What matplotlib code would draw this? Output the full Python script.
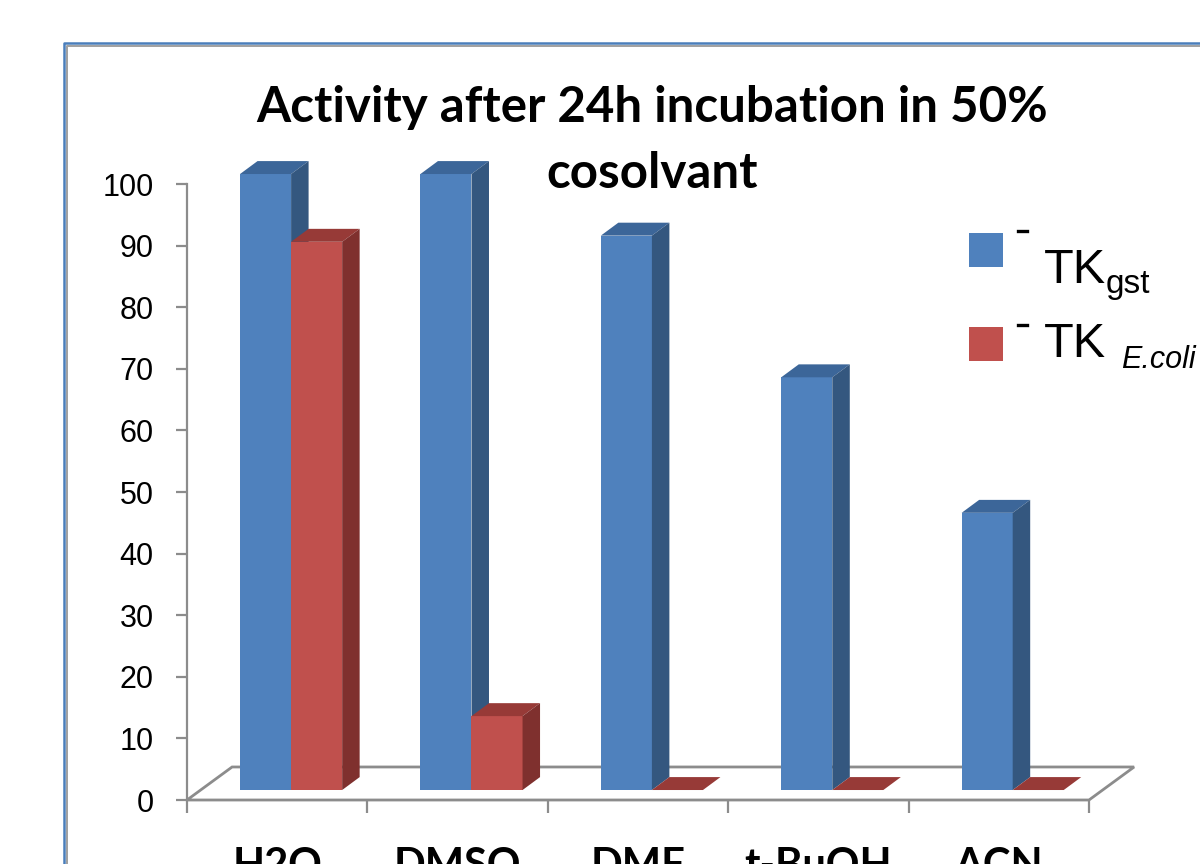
import matplotlib
matplotlib.use("Agg")
import matplotlib.pyplot as plt
from matplotlib.patches import Polygon, Rectangle
from matplotlib.lines import Line2D

# ---- data ----
categories = ["H2O", "DMSO", "DMF", "t-BuOH", "ACN"]
tk_gst = [100, 100, 90, 67, 45]
tk_ecoli = [89, 12, 0, 0, 0]
yticks = [0, 10, 20, 30, 40, 50, 60, 70, 80, 90, 100]
title_lines = ["Activity after 24h incubation in 50%", "cosolvant"]

W, H = 1200, 864
fig = plt.figure(figsize=(12, 8.64), dpi=100)
fig.patch.set_facecolor("white")

def fx(px):
    return px / W

def fy(py):
    return 1 - py / H

ax = fig.add_axes([fx(187), 64 / H, 902 / W, 616 / H])
ax.set_xlim(-0.5, 4.5)
ax.set_ylim(0, 100)
ax.patch.set_visible(False)

# geometry (data units)
BAR_W = 0.283
X_SHIFT = 0.077
FY = 1.62          # front face raised above floor front edge
DX, DY = 0.097, 2.1  # bar depth offset
FDX, FDY = 0.25, 5.36  # floor depth offset

blue = dict(front="#4f81bd", top="#3c6699", side="#34577f")
red = dict(front="#c0504d", top="#973a37", side="#7f302e")

grey = "#8c8c8c"
# floor
floor = Polygon([(-0.5, 0), (4.5, 0), (4.5 + FDX, FDY), (-0.5 + FDX, FDY)],
                closed=True, fc="white", ec=grey, lw=2.0, clip_on=False, zorder=1)
ax.add_patch(floor)

def bar3d(xc, h, col, z):
    xl = xc - BAR_W / 2
    ax.bar([xc], [h], width=BAR_W, bottom=FY, color=col["front"],
           edgecolor="none", zorder=z, clip_on=False)
    y1 = FY + h
    ax.add_patch(Polygon([(xl, y1), (xl + BAR_W, y1), (xl + BAR_W + DX, y1 + DY),
                          (xl + DX, y1 + DY)], closed=True, fc=col["top"],
                         ec="none", zorder=z, clip_on=False))
    ax.add_patch(Polygon([(xl + BAR_W, FY), (xl + BAR_W + DX, FY + DY),
                          (xl + BAR_W + DX, y1 + DY), (xl + BAR_W, y1)], closed=True,
                         fc=col["side"], ec="none", zorder=z, clip_on=False))

z = 3
for i, (b, r) in enumerate(zip(tk_gst, tk_ecoli)):
    bar3d(i + X_SHIFT - BAR_W / 2, b, blue, z)
    z += 1
    bar3d(i + X_SHIFT + BAR_W / 2, r, red, z)
    z += 1

# axes styling
for s in ["top", "right", "bottom"]:
    ax.spines[s].set_visible(False)
ax.spines["left"].set_color(grey)
ax.spines["left"].set_linewidth(1.6)
ax.set_yticks(yticks)
ax.set_yticklabels([str(v) for v in yticks], fontsize=22, family="Liberation Sans")
ax.tick_params(axis="y", direction="out", length=8, width=1.6, color=grey, pad=16)

ax.set_xticks([-0.5, 0.5, 1.5, 2.5, 3.5, 4.5])
ax.set_xticklabels([])
ax.tick_params(axis="x", which="major", direction="out", length=9, width=1.6, color=grey)
ax.set_xticks(range(len(categories)), minor=True)
ax.set_xticklabels(categories, minor=True, fontsize=30, fontweight="bold", family="Lato")
ax.tick_params(axis="x", which="minor", length=0, pad=34)

# title
fig.text(fx(652), fy(122), title_lines[0], ha="center", va="baseline",
         fontsize=35.5, fontweight="bold", family="Lato")
fig.text(fx(652), fy(188), title_lines[1], ha="center", va="baseline",
         fontsize=35.5, fontweight="bold", family="Lato")

# legend (manual)
fig.patches.append(Rectangle((fx(969), fy(267)), 34 / W, 34 / H,
                             transform=fig.transFigure, fc=blue["front"], ec="none"))
fig.patches.append(Rectangle((fx(969), fy(361)), 34 / W, 34 / H,
                             transform=fig.transFigure, fc=red["front"], ec="none"))
for ypx in (231, 325):
    fig.add_artist(Line2D([fx(1018), fx(1027)], [fy(ypx), fy(ypx)],
                          transform=fig.transFigure, color="black", lw=2.4))
fig.text(fx(1044), fy(283), "TK", fontsize=35, family="Liberation Sans", va="baseline")
fig.text(fx(1106), fy(293), "gst", fontsize=24, family="Liberation Sans", va="baseline")
fig.text(fx(1044), fy(357), "TK", fontsize=35, family="Liberation Sans", va="baseline")
fig.text(fx(1121), fy(368), "E.coli", fontsize=22, family="Liberation Sans",
         style="italic", va="baseline")

# outer frame
fig.add_artist(Line2D([fx(64), fx(64), fx(1200)], [fy(864), fy(43), fy(43)],
                      transform=fig.transFigure, color="#4a7ebb", lw=1.8))
fig.add_artist(Line2D([fx(66.5), fx(66.5), fx(1200)], [fy(864), fy(45.5), fy(45.5)],
                      transform=fig.transFigure, color="#a0a0a0", lw=1.4))

fig.savefig("out.png", dpi=100)
